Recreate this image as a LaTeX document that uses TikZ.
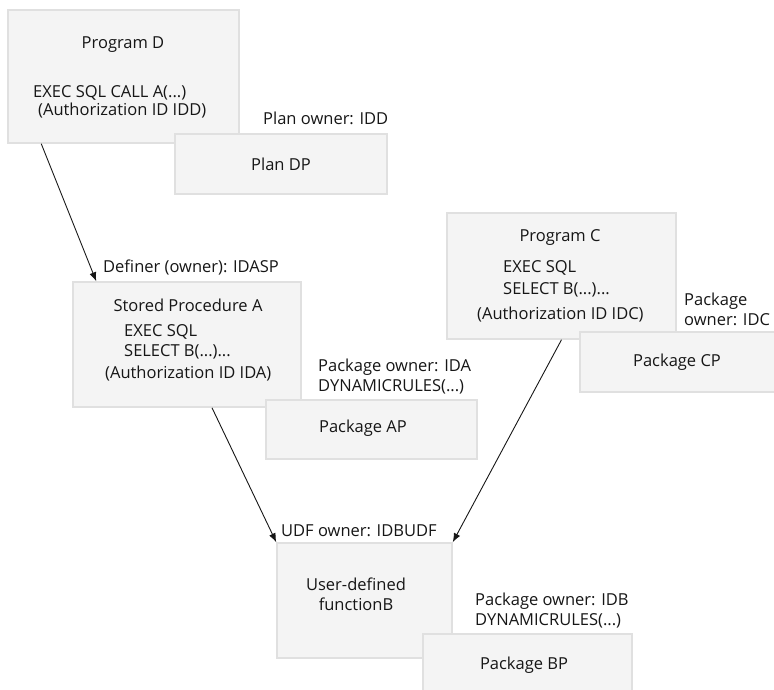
\documentclass[tikz,border=0pt]{standalone}
\usepackage{fontspec}
\setmainfont{Open Sans}
\usepackage{xcolor}
\usetikzlibrary{arrows.meta}

\definecolor{boxfill}{HTML}{F4F4F4}
\definecolor{boxline}{HTML}{E0E0E0}
\definecolor{ink}{HTML}{161616}

\begin{document}
\begin{tikzpicture}[
			x=1pt, y=-1pt,
			box/.style={draw=boxline, fill=boxfill, line width=1.5pt, inner sep=0pt, text=ink, font=\fontsize{16.5}{20}\selectfont, align=center},
			lbl/.style={inner sep=0pt, text=ink, font=\fontsize{16.5}{20}\selectfont, anchor=west},
			txt/.style={inner sep=0pt, text=ink, font=\fontsize{16.5}{20}\selectfont},
			arrow/.style={-{Latex[length=9pt,width=7pt]}, line width=0.9pt, draw=ink}
			]
	\useasboundingbox (0,0) rectangle (774,690);
	
	%% Program D e o seu plano
	\node[box, minimum width=231pt, minimum height=133pt] (progD) at (123.5,76.5) {};
	\node[txt] (progDtitle) at (123,45) {Program D};
	\node[lbl] (progDsql) at (33,93) {EXEC SQL CALL A(...)};
	\node[lbl] (progDauth) at (38,111) {(Authorization ID IDD)};
	\node[lbl] (planOwner) at (263,118) {Plan owner: IDD};
	\node[box, minimum width=212pt, minimum height=60pt] (planDP) at (281,164) {Plan DP};
	
	%% Stored Procedure A e o seu package
	\node[lbl] (definer) at (103,267) {Definer (owner): IDASP};
	\node[box, minimum width=228pt, minimum height=125pt] (procA) at (187,344.5) {};
	\node[txt] (procAtitle) at (188,305) {Stored Procedure A};
	\node[lbl] (procAexec) at (124,332) {EXEC SQL};
	\node[lbl] (procAsel) at (124,352) {SELECT B(...)...};
	\node[lbl] (procAauth) at (105,374) {(Authorization ID IDA)};
	\node[lbl, align=left] (pkgAowner) at (318,377) {Package owner: IDA\\DYNAMICRULES(...)};
	\node[box, minimum width=211pt, minimum height=59pt] (pkgAP) at (371.5,429.5) {};
	\node[txt] (pkgAPtext) at (363,428) {Package AP};
	
	%% Program C e o seu package
	\node[box, minimum width=229pt, minimum height=126pt] (progC) at (561.5,276) {};
	\node[txt] (progCtitle) at (560,238) {Program C};
	\node[lbl] (progCexec) at (503,268) {EXEC SQL};
	\node[lbl] (progCsel) at (503,290) {SELECT B(...)...};
	\node[lbl] (progCauth) at (477,315) {(Authorization ID IDC)};
	\node[lbl, align=left] (pkgCowner) at (684,309) {Package\\owner: IDC};
	\node[box, minimum width=200pt, minimum height=60pt] (pkgCP) at (680,362) {};
	\node[txt] (pkgCPtext) at (677,362) {Package CP};
	
	%% User-defined function B e o seu package
	\node[lbl] (udfOwner) at (281,531) {UDF owner: IDBUDF};
	\node[box, minimum width=175pt, minimum height=115pt] (udfB) at (364.5,600.5) {};
	\node[txt, align=center] (udfBtext) at (356,594) {User-defined\\functionB};
	\node[lbl, align=left] (pkgBowner) at (475,611) {Package owner: IDB\\DYNAMICRULES(...)};
	\node[box, minimum width=209pt, minimum height=60pt] (pkgBP) at (527.5,664) {};
	\node[txt] (pkgBPtext) at (524,665) {Package BP};
	
	%% Chamadas
	\draw[arrow] ([xshift=34pt]progD.south west) -- ([xshift=24pt]procA.north west);
	\draw[arrow] ([xshift=25pt]procA.south) -- (udfB.north west);
	\draw[arrow] (progC.south) -- (udfB.north east);
	
\end{tikzpicture}
\end{document}
